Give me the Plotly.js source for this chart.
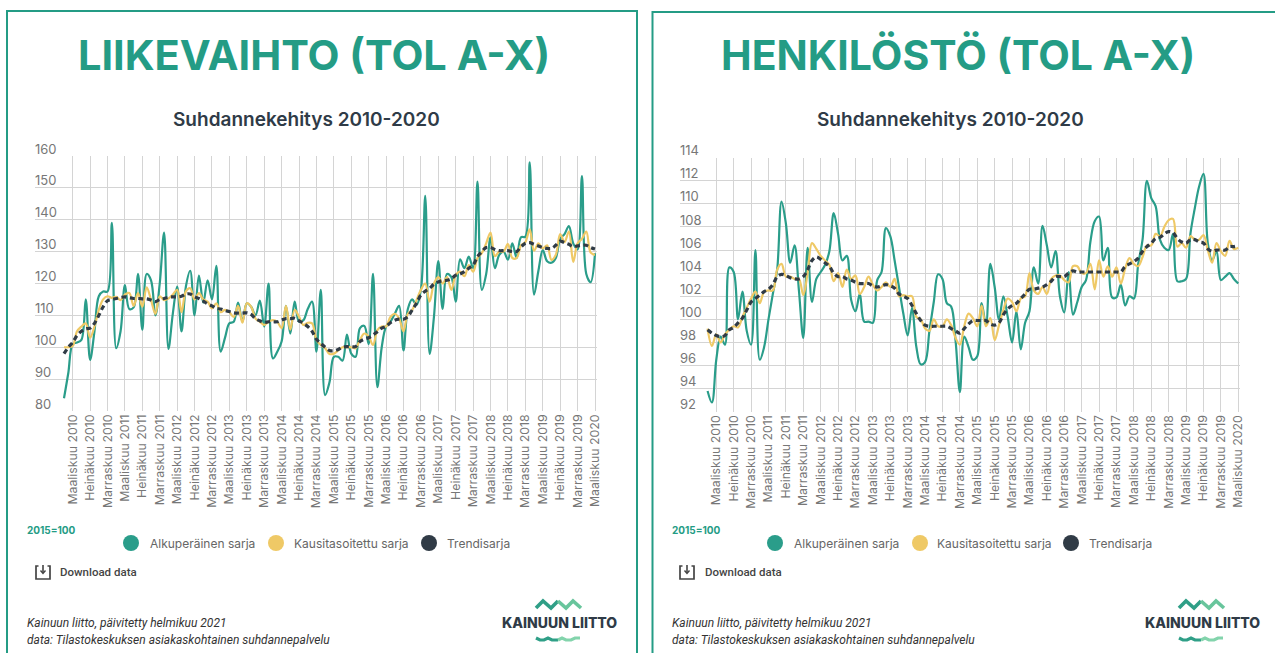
<!DOCTYPE html>
<html><head><meta charset="utf-8">
<script src="https://cdn.plot.ly/plotly-3.0.1.min.js"></script>
<style>html,body{margin:0;padding:0;background:#fff;overflow:hidden}#c{width:1275px;height:653px}</style>
</head><body><div id="c"></div>
<script>
const monthNames = ["Tammikuu","Helmikuu","Maaliskuu","Huhtikuu","Toukokuu","Kesäkuu","Heinäkuu","Elokuu","Syyskuu","Lokakuu","Marraskuu","Joulukuu"];
const categories = [];
for (let y = 2010; y <= 2020; y++) for (let m = 0; m < 12; m++) { if (y === 2020 && m > 2) break; categories.push(monthNames[m] + " " + y); }
const tickLabels = categories.filter(c => /^(Maaliskuu|Heinäkuu|Marraskuu)/.test(c));

const revOriginal = [84,92,101,101.5,102.3,115,96,105,116,117.5,117.5,139,99.7,105,119.5,112,112.5,123,105.5,123,121,110,120,136,99.5,110.5,119,105,119,124,110,122.5,114,121,115,125.5,98.6,103,107.5,108,114,108,113.8,112.7,110,114.6,106.5,120,96.5,98.6,101.8,113,104.3,114.3,108,108.5,112,114.3,98.6,118,85,89,97,97,95.8,104,98,97,106,106.7,101,123,87.5,100,106.5,108,110.5,113,99,112,115,113.3,118,147.5,97.9,109.5,127,112,123,122,114.3,127.6,124.8,128.4,124.8,152,118,123,134.5,124.8,129,130,127.5,132.6,128,134.5,134.7,158,116.5,124,130.5,127,126.5,128,134,135.5,138,132.6,130.7,153.7,123,120.4,129.5];
const revSeasonal = [100,100,100.4,105,106.5,107.5,103,106.5,111.7,115,116,115.5,115.8,114.8,116.5,117,113,117,112.7,118.8,114.8,110.5,116,114.8,115.3,116.5,118,111,117.5,118.5,115,117,115,114.3,112.2,113.8,111,111.7,111,109.5,113,107.7,113.8,112.7,109,108,107,108,108.5,108,106,113,105.5,111.7,109.6,107,107.7,107.5,102.3,100.7,99.7,97.9,98,99,100,100,100,99.7,102.3,104.3,103.4,100.7,105.4,106.5,106.5,109.5,110.5,109,105,110.5,111.7,114.8,118,120,114.3,120,122,120,122,118,122.6,123.7,122.3,125.8,123.7,128,129.5,132.6,136,128.6,130,130,132.4,128,128,132,133,137,130.3,132.6,131,132,127.4,129,135.5,133,136.3,126.8,132.6,134,136.3,129.7,129];
const revTrend = [98,100,101.5,103.7,105,105.8,106,107.5,110,112.7,114.6,115,115.3,115.6,115.8,115.5,115.3,115.3,115.2,115.2,114.8,114.3,115,115.3,115.7,115.8,115.8,116,116.7,116.7,115.8,115.3,114.5,113.6,113,112.2,112,111.5,111.2,110.8,110.7,110.7,110.8,110.3,109,108.3,107.8,108,108,108,108.5,109,109,109.1,108.3,107.5,106.5,105,102.5,101.2,100,99,98.9,99.3,100,100.2,100.2,100.2,101.8,102.5,103,103.8,104.9,106,106.5,107.7,108.5,108.8,108.8,109.6,111.7,113.8,116.4,117.6,118.5,119.8,120.5,120.9,121,121.5,122.6,123,123.7,124.8,125.8,128.4,130,131.3,131.3,130.7,130.3,130.3,130.3,130,130,131.5,132.6,132.8,132.3,131.8,131.3,131,131,132,133.3,132.8,132.3,131.5,131.8,132,132,131.3,130.8];

const staffOriginal = [93.8,92.8,96.5,98.5,97.8,104.5,104.1,100,102.4,99,97.8,106,96.5,97.6,100,102.2,104.3,110.2,108.3,104.9,106.4,102.5,98.4,106.2,101.5,103.5,104.1,104.7,105.9,109.2,107.4,105.1,105.5,101.7,100.7,102.2,99.8,99.8,99.7,103.4,104.1,107.9,107.2,105.1,102.8,100.5,98.6,101,97.6,96.1,96.3,99,101.5,103.9,103.5,101.4,101.1,98.2,93.7,98.5,97.6,96.5,96.8,101.4,99.5,104.8,102.8,100,102,100.2,98,100.7,97.4,99.7,100.7,104.5,103.1,108.1,106.4,104.5,105.9,102,100.6,104.1,100.4,101.5,102.8,103.4,106.7,108.5,108.9,105.1,106.2,101.9,101.9,103,101.2,102,101.8,104.8,106.9,112,110.5,109.8,106.9,106.2,106,107.4,103.3,103.3,103.5,107.4,109.6,111.5,112.6,106.6,105.1,105.9,103.4,103.7,104,103.5,103.1];
const staffSeasonal = [99.2,97.7,98.7,98,98.7,99.1,99.4,99.3,100.2,101,101.8,102.4,101.4,102.4,102.5,102.5,104.3,104.8,103.7,103.7,103.5,103.5,102.1,104,106.6,106.1,105.5,105.1,104.7,103.3,104,102.8,104.3,103.5,103.8,102.2,102.8,103.7,103,102.5,102.8,103.2,102.8,103.5,102,102.1,102,102,100.2,100,99.2,99,100,99.4,99.4,100,99.5,98.4,97.8,99.4,100.5,100.1,99.4,101.2,99.4,100.1,98.2,99.5,100.8,101.8,101.5,100.7,101.8,102,104,102.5,102.2,102.8,102.2,103.5,103.8,103.8,103.4,103.2,104.6,104.6,104,104,104.8,102.6,105.1,103.7,104.6,103.7,104.5,103.1,104.4,105.3,104.8,104.6,105.4,106.4,106.4,107.4,107.2,108,108.6,108.7,106.3,106.6,106.2,107.2,106.9,106.9,107.3,106,104.9,106.6,105.9,105.5,106.8,106.1,106.2];
const staffTrend = [99.1,98.8,98.6,98.5,98.6,99.1,99.3,99.7,100.1,100.8,101.5,101.8,102.1,102.4,102.6,103,103.7,103.9,103.8,103.6,103.5,103.5,103.7,104.3,105.1,105.4,105.2,104.9,104.6,104,103.7,103.7,103.5,103.4,103.2,103.1,103.1,103.1,102.9,102.8,102.9,103,102.9,102.7,102.2,102,101.8,101.2,100.5,99.9,99.5,99.4,99.4,99.4,99.4,99.4,99.2,99,98.8,99.2,99.6,99.9,99.9,99.9,99.9,99.6,99.5,99.7,100.4,100.9,101.2,101.4,101.8,102.2,102.6,102.6,102.7,102.8,103,103.3,103.7,103.7,103.7,104,104.2,104.1,104.1,104.1,104.1,104.1,104.1,104.1,104.1,104.1,104.1,104.1,104.6,104.8,105,105.3,105.9,106.3,106.6,107,107.1,107.4,107.6,107.5,107,106.7,106.6,106.9,106.9,106.7,106.6,106.1,105.9,106,106,106,106.3,106.3,106.4];

const seriesNames = ["Alkuperäinen sarja","Kausitasoitettu sarja","Trendisarja"];
const seriesColors = ["#2a9d8a","#efc966","#303b46"];
const revTicks = [80,90,100,110,120,130,140,150,160];
const staffTicks = [92,94,96,98,100,102,104,106,108,110,112,114];

const W = 1275, H = 653, TEAL = "#249c85", INK = "#2f3b47";
const FONT = "Inter, 'Open Sans', sans-serif", FOOT = "Roboto, sans-serif";
const px = x => x / W, py = y => 1 - y / H;

function traces(a, b, c, xa, ya) {
  const mk = (y, i, w, dash) => ({type:"scatter", mode:"lines", name:seriesNames[i], x:categories, y, xaxis:xa, yaxis:ya,
    showlegend:false, cliponaxis:false, hoverinfo:"skip",
    line:{color:seriesColors[i], width:w, shape:"spline", smoothing:1, dash}});
  return [mk(a,0,2.2,"solid"), mk(b,1,2.2,"solid"), mk(c,2,3.2,"5px,3.5px")];
}
const data = [...traces(revOriginal,revSeasonal,revTrend,"x","y"), ...traces(staffOriginal,staffSeasonal,staffTrend,"x2","y2")];

function xAxis(l, r, xIdxL, xIdxR) {
  return {domain:[px(l),px(r)], type:"category", categoryorder:"array", categoryarray:categories, range:[xIdxL,xIdxR],
    tickmode:"array", tickvals:tickLabels, ticktext:tickLabels, tickangle:-90, ticks:"", ticklen:0,
    tickfont:{family:FONT,size:12.3,color:"#777"}, showgrid:true, gridcolor:"#d4d4d4", gridwidth:1, zeroline:false, showline:false, automargin:false};
}
function yAxis(t, b, lo, hi, vals, anchor) {
  return {domain:[py(b),py(t)], range:[lo,hi], tickmode:"array", tickvals:vals, ticktext:vals.map(String),
    ticklabelposition:"inside", ticklabeloverflow:"allow", ticklabelshift:-7, ticklabelstandoff:-3, ticks:"", tickfont:{family:FONT,size:13,color:"#777"},
    showgrid:true, gridcolor:"#d4d4d4", gridwidth:1, zeroline:false, showline:false, anchor, automargin:false};
}
function note(x, y, text, size, color, opt) {
  return Object.assign({xref:"paper", yref:"paper", x:px(x), y:py(y), text, showarrow:false, xanchor:"left", yanchor:"middle",
    font:{family:FONT,size,color}}, opt||{});
}
function line(pts, color, width) {
  return {type:"path", xref:"paper", yref:"paper", path:"M"+pts.map(p=>px(p[0])+","+py(p[1])).join("L"), line:{color,width}, layer:"above"};
}
function circle(cx, cy, r, color) {
  return {type:"circle", xref:"paper", yref:"paper", x0:px(cx-r), x1:px(cx+r), y0:py(cy+r), y1:py(cy-r), fillcolor:color, line:{width:0}, layer:"above"};
}
function panel(o) {
  const ann = [
    note(o.mid, 55, o.title, o.size, TEAL, {xanchor:"center", font:{family:FONT,size:o.size,color:TEAL,weight:700}}),
    note(o.sub, 119, "Suhdannekehitys 2010-2020", 19, INK, {xanchor:"center", font:{family:FONT,size:19,color:INK,weight:600}}),
    note(o.x0+18, 530, "2015=100", 10, TEAL, {font:{family:FONT,size:10,color:TEAL,weight:700}}),
    note(o.x0+51, 572, "Download data", 11.5, "#444", {font:{family:FOOT,size:11.5,color:"#444",weight:500}}),
    note(o.x0+18, 623, "Kainuun liitto, päivitetty helmikuu 2021", 12, "#333", {font:{family:FOOT,size:12,color:"#333",style:"italic"}}),
    note(o.x0+18, 640, "data: Tilastokeskuksen asiakaskohtainen suhdannepalvelu", 12, "#333", {font:{family:FOOT,size:12,color:"#333",style:"italic"}}),
    note(o.logo, 622, "KAINUUN LIITTO", 14, INK, {xanchor:"center", font:{family:FONT,size:14,color:INK,weight:800}})
  ];
  const shp = [];
  o.legend.forEach((e,i)=>{ shp.push(circle(e[0],543,8,seriesColors[i])); ann.push(note(e[1]-2,543.5,seriesNames[i],12,"#666")); });
  const ix = o.icon;
  shp.push(line([[ix+2.5,566],[ix,566],[ix,579],[ix+14,579],[ix+14,566],[ix+11.5,566]], "#444", 1.7));
  shp.push(line([[ix+7,565],[ix+7,573]], "#444", 1.6));
  shp.push(line([[ix+4.5,570.5],[ix+7,573.5],[ix+9.5,570.5]], "#444", 1.4));
  const L = o.logo-23;
  shp.push(line([[L,608],[L+7,601],[L+15,608],[L+22,601]], "#2f9f87", 3.6));
  shp.push(line([[L+22,601],[L+30,608],[L+37,601],[L+45,608]], "#68c59c", 3.6));
  shp.push(line([[L,638],[L+4,640],[L+8,640],[L+12,638],[L+16,640],[L+22,640]], "#2f9f87", 3.2));
  shp.push(line([[L+22,640],[L+26,638],[L+30,640],[L+35,640],[L+39,638],[L+44,638]], "#83d4ac", 3.2));
  return {ann, shp};
}
const A = panel({mid:314, sub:306, size:41.5, title:"LIIKEVAIHTO (TOL A-X)", x0:7, icon:36, logo:559, legend:[[131,150],[276,294],[429,447]]});
const B = panel({mid:958, sub:950, size:41, title:"HENKILÖSTÖ (TOL A-X)", x0:652, icon:680, logo:1202, legend:[[775,794],[920,937],[1071,1089]]});

const frames = [
  line([[7,660],[7,11],[637,11],[637,660]], TEAL, 2),
  line([[652.5,660],[652.5,12],[1280,12]], TEAL, 2)
];
const layout = {
  width:W, height:H, margin:{l:0,r:0,t:0,b:0}, paper_bgcolor:"#fff", plot_bgcolor:"#fff", showlegend:false,
  xaxis:xAxis(35,597,-6.66,122.46), yaxis:yAxis(156,411,80,160,revTicks,"x"),
  xaxis2:Object.assign(xAxis(680,1240,-6.34,122.4),{anchor:"y2"}), yaxis2:yAxis(157.7,411.7,92,114,staffTicks,"x2"),
  annotations:[...A.ann, ...B.ann], shapes:[...frames, ...A.shp, ...B.shp]
};
layout.xaxis.anchor = "y";
Plotly.newPlot("c", data, layout, {displayModeBar:false, staticPlot:true});
</script></body></html>
